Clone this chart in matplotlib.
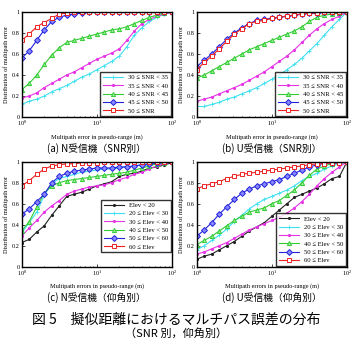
import numpy as np
import matplotlib
matplotlib.use('Agg')
import matplotlib.pyplot as plt

# x grid: 10^0 .. 10^2 in steps of 0.1 decades
err_m = 10 ** (np.arange(21) / 10)

snr_labels = ['30 ≤ SNR < 35', '35 ≤ SNR < 40', '40 ≤ SNR < 45', '45 ≤ SNR < 50', '50 ≤ SNR']
elev_labels = ['Elev < 20', '20 ≤ Elev < 30', '30 ≤ Elev < 40', '40 ≤ Elev < 50',
               '50 ≤ Elev < 60', '60 ≤ Elev']

# (a) N receiver, by SNR
a_snr30 = [0.12, 0.15, 0.17, 0.20, 0.24, 0.27, 0.30, 0.34, 0.38, 0.41, 0.45, 0.49, 0.53, 0.58, 0.67, 0.78, 0.85, 0.91, 0.95, 0.98, 1.0]
a_snr35 = [0.18, 0.20, 0.23, 0.28, 0.32, 0.36, 0.40, 0.43, 0.47, 0.51, 0.55, 0.58, 0.61, 0.65, 0.73, 0.82, 0.89, 0.93, 0.96, 0.98, 1.0]
a_snr40 = [0.26, 0.32, 0.40, 0.50, 0.59, 0.66, 0.71, 0.73, 0.75, 0.77, 0.79, 0.81, 0.83, 0.84, 0.86, 0.89, 0.92, 0.95, 0.97, 0.99, 1.0]
a_snr45 = [0.56, 0.63, 0.73, 0.83, 0.91, 0.95, 0.97, 0.98, 0.99, 1.0, 1.0, 1.0, 1.0, 1.0, 1.0, 1.0, 1.0, 1.0, 1.0, 1.0, 1.0]
a_snr50 = [0.73, 0.79, 0.86, 0.90, 0.94, 0.98, 0.99, 1.0, 1.0, 1.0, 1.0, 1.0, 1.0, 1.0, 1.0, 1.0, 1.0, 1.0, 1.0, 1.0, 1.0]

# (b) U receiver, by SNR
b_snr30 = [0.10, 0.10, 0.12, 0.14, 0.17, 0.19, 0.22, 0.25, 0.28, 0.32, 0.36, 0.40, 0.45, 0.50, 0.56, 0.63, 0.70, 0.78, 0.86, 0.93, 1.0]
b_snr35 = [0.15, 0.17, 0.19, 0.22, 0.25, 0.28, 0.31, 0.35, 0.39, 0.43, 0.48, 0.53, 0.58, 0.64, 0.71, 0.78, 0.84, 0.89, 0.93, 0.96, 1.0]
b_snr40 = [0.37, 0.40, 0.44, 0.48, 0.52, 0.56, 0.60, 0.64, 0.67, 0.70, 0.73, 0.76, 0.79, 0.82, 0.86, 0.91, 0.95, 0.97, 0.98, 0.99, 1.0]
b_snr45 = [0.48, 0.54, 0.60, 0.67, 0.74, 0.80, 0.85, 0.89, 0.92, 0.93, 0.94, 0.95, 0.96, 0.97, 0.98, 0.99, 0.99, 1.0, 1.0, 1.0, 1.0]
b_snr50 = [0.45, 0.52, 0.58, 0.65, 0.72, 0.79, 0.84, 0.89, 0.91, 0.92, 0.94, 0.95, 0.96, 0.97, 0.98, 0.99, 0.99, 1.0, 1.0, 1.0, 1.0]

# (c) N receiver, by elevation
c_el00 = [0.23, 0.26, 0.33, 0.39, 0.49, 0.58, 0.67, 0.69, 0.71, 0.74, 0.77, 0.79, 0.81, 0.86, 0.88, 0.89, 0.91, 0.94, 0.95, 0.97, 0.99]
c_el20 = [0.32, 0.42, 0.52, 0.68, 0.79, 0.84, 0.86, 0.88, 0.90, 0.91, 0.92, 0.93, 0.93, 0.94, 0.95, 0.96, 0.97, 0.97, 0.98, 0.99, 1.0]
c_el30 = [0.29, 0.37, 0.44, 0.52, 0.58, 0.63, 0.69, 0.72, 0.74, 0.76, 0.77, 0.78, 0.80, 0.83, 0.85, 0.88, 0.90, 0.93, 0.96, 0.98, 1.0]
c_el40 = [0.34, 0.43, 0.57, 0.70, 0.77, 0.80, 0.82, 0.83, 0.84, 0.85, 0.86, 0.87, 0.88, 0.89, 0.90, 0.92, 0.94, 0.96, 0.98, 0.99, 1.0]
c_el50 = [0.50, 0.55, 0.62, 0.69, 0.80, 0.86, 0.89, 0.91, 0.92, 0.93, 0.94, 0.94, 0.94, 0.95, 0.95, 0.96, 0.97, 0.98, 0.99, 1.0, 1.0]
c_el60 = [0.77, 0.82, 0.88, 0.93, 0.96, 0.97, 0.98, 0.98, 0.99, 0.99, 0.99, 1.0, 1.0, 1.0, 1.0, 1.0, 1.0, 1.0, 1.0, 1.0, 1.0]

# (d) U receiver, by elevation
d_el00 = [0.07, 0.10, 0.12, 0.16, 0.20, 0.24, 0.29, 0.34, 0.38, 0.42, 0.48, 0.54, 0.60, 0.66, 0.69, 0.72, 0.75, 0.79, 0.84, 0.86, 1.0]
d_el20 = [0.16, 0.20, 0.25, 0.30, 0.36, 0.43, 0.49, 0.55, 0.60, 0.64, 0.67, 0.70, 0.73, 0.77, 0.82, 0.86, 0.89, 0.93, 0.96, 0.98, 1.0]
d_el30 = [0.12, 0.14, 0.17, 0.20, 0.23, 0.27, 0.31, 0.35, 0.38, 0.41, 0.44, 0.47, 0.51, 0.56, 0.62, 0.69, 0.77, 0.84, 0.90, 0.95, 1.0]
d_el40 = [0.21, 0.25, 0.29, 0.34, 0.39, 0.44, 0.48, 0.52, 0.54, 0.56, 0.60, 0.63, 0.68, 0.73, 0.80, 0.87, 0.93, 0.96, 0.98, 0.99, 1.0]
d_el50 = [0.29, 0.35, 0.42, 0.50, 0.57, 0.64, 0.70, 0.74, 0.77, 0.79, 0.81, 0.83, 0.86, 0.89, 0.92, 0.95, 0.97, 0.99, 0.99, 1.0, 1.0]
d_el60 = [0.74, 0.77, 0.79, 0.81, 0.84, 0.86, 0.88, 0.89, 0.90, 0.91, 0.92, 0.93, 0.94, 0.95, 0.96, 0.97, 0.98, 0.98, 0.99, 0.99, 1.0]

serif = ['Liberation Serif', 'DejaVu Serif']
jp = ['Noto Sans CJK JP', 'DejaVu Sans']
plt.rcParams['font.family'] = serif
plt.rcParams['mathtext.fontset'] = 'stix'

# style per series: color, marker, marker face
snr_styles = [('#40e0f0', '+', None), ('#e633e6', '.', None), ('#33cc33', '^', '#99ee99'),
              ('#2222dd', 'D', '#8888ff'), ('#ee2222', 's', 'white')]
elev_styles = [('#222222', '.', None)] + snr_styles

fig = plt.figure(figsize=(3.53, 3.41), dpi=100)
W, H = 353.0, 341.0


def make_ax(left, top, right, bottom):
    return fig.add_axes([left / W, 1 - bottom / H, (right - left) / W, (bottom - top) / H])


def draw(ax, series, labels, styles, xlabel, caption, legend_anchor):
    for ys, lab, (col, mk, mfc) in zip(series, labels, styles):
        kw = dict(color=col, marker=mk, lw=0.8, label=lab)
        if mk == '.':
            kw['ms'] = 2.5
        elif mk == '+':
            kw['ms'] = 3.5
            kw['mew'] = 0.6
        else:
            kw['ms'] = 3.0
            kw['mew'] = 0.7
            kw['mfc'] = mfc
        ax.plot(err_m, ys, **kw)
    ax.set_xscale('log')
    ax.set_xlim(1, 100)
    ax.set_ylim(0, 1)
    ax.set_yticks([0, 0.2, 0.4, 0.6, 0.8, 1.0])
    ax.set_yticklabels(['0', '0.2', '0.4', '0.6', '0.8', '1'])
    ax.tick_params(labelsize=4.5, length=2, width=0.5, pad=1.5, direction='in', which='both')
    ax.tick_params(which='minor', length=1)
    for s in ax.spines.values():
        s.set_linewidth(1.0)
    ax.set_xlabel(xlabel, fontsize=4.5, labelpad=4)
    ax.set_ylabel('Distribution of multipath error', fontsize=4.5, labelpad=2)
    ax.text(0.5, -0.245, caption, transform=ax.transAxes, ha='center', va='top',
            fontsize=7, family=jp)
    leg = ax.legend(loc='lower right', bbox_to_anchor=legend_anchor, fontsize=4.8,
                    frameon=True, fancybox=False, edgecolor='black', handlelength=3.0,
                    borderpad=0.4, labelspacing=0.4, handletextpad=0.8, borderaxespad=0.1)
    leg.get_frame().set_linewidth(1.0)


ax_a = make_ax(21.7, 12, 172, 117)
draw(ax_a, [a_snr30, a_snr35, a_snr40, a_snr45, a_snr50], snr_labels, snr_styles,
     'Multipath error in pseudo-range (m)', '(a) N受信機（SNR別）', (1, 0))

ax_b = make_ax(196.7, 12, 347, 117)
draw(ax_b, [b_snr30, b_snr35, b_snr40, b_snr45, b_snr50], snr_labels, snr_styles,
     'Multipath error in pseudo-range (m)', '(b) U受信機（SNR別）', (1, 0))

ax_c = make_ax(21.7, 161.7, 172, 266.7)
draw(ax_c, [c_el00, c_el20, c_el30, c_el40, c_el50, c_el60], elev_labels, elev_styles,
     'Multipath errors in pseudo-range (m)', '(c) N受信機（仰角別）', (1, 0.13))

ax_d = make_ax(196.7, 161.7, 347, 266.7)
draw(ax_d, [d_el00, d_el20, d_el30, d_el40, d_el50, d_el60], elev_labels, elev_styles,
     'Multipath errors in pseudo-range (m)', '(d) U受信機（仰角別）', (1, 0))

fig.text(0.5, 1 - 320 / H, '図 5　擬似距離におけるマルチパス誤差の分布', ha='center', va='center',
         fontsize=10, family=jp)
fig.text(0.5, 1 - 333.5 / H, '（SNR 別，仰角別）', ha='center', va='center', fontsize=8, family=jp)

fig.savefig('out.png', dpi=100)
